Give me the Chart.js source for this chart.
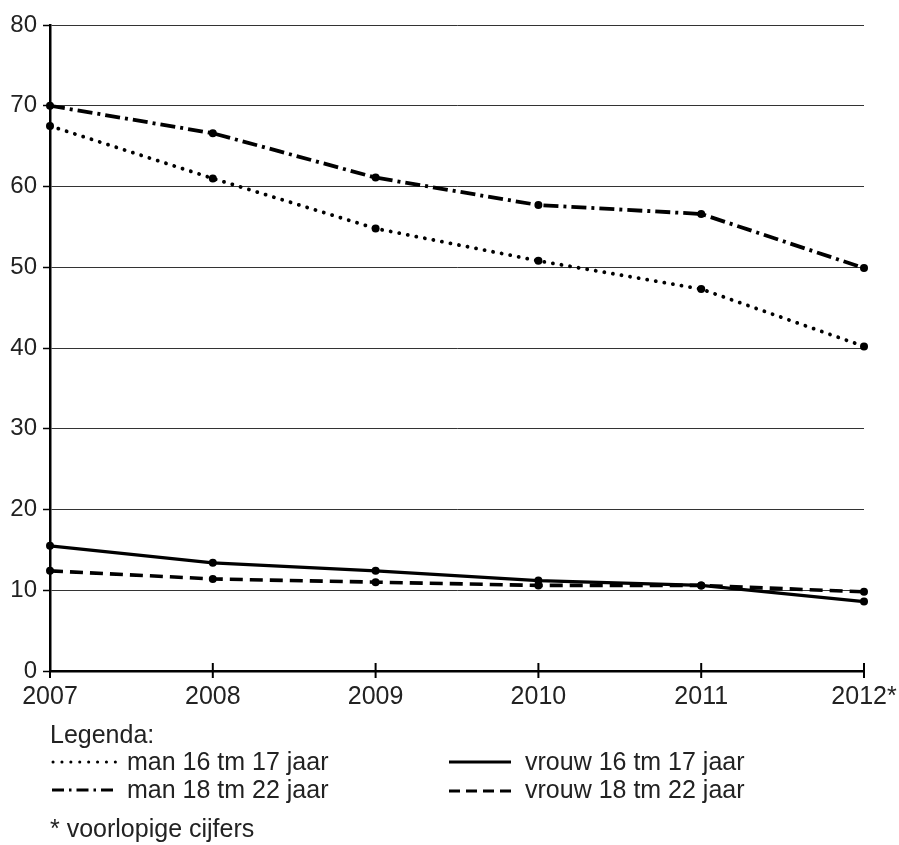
<!DOCTYPE html>
<html>
<head>
<meta charset="utf-8">
<script src="https://cdn.jsdelivr.net/npm/chart.js@4.4.0/dist/chart.umd.min.js"></script>
<style>
  html, body { margin: 0; padding: 0; background: #fff; }
  #wrap { width: 899px; height: 845px; position: relative; }
</style>
</head>
<body>
<div id="wrap"><canvas id="c" width="899" height="845"></canvas></div>
<script>
const years = ["2007", "2008", "2009", "2010", "2011", "2012*"];
const man16_17 = [67.5, 61.0, 54.8, 50.8, 47.3, 40.2];
const man18_22 = [70.0, 66.6, 61.1, 57.7, 56.6, 49.9];
const vrouw16_17 = [15.5, 13.4, 12.4, 11.2, 10.6, 8.6];
const vrouw18_22 = [12.4, 11.4, 11.0, 10.6, 10.6, 9.8];
const yTicks = [0, 10, 20, 30, 40, 50, 60, 70, 80];
const legendTitle = "Legenda:";
const legendLabels = ["man 16 tm 17 jaar", "vrouw 16 tm 17 jaar", "man 18 tm 22 jaar", "vrouw 18 tm 22 jaar"];
const footnote = "* voorlopige cijfers";

const FONT = "'Liberation Sans', Arial, sans-serif";
const TXT = "#222";

const xTickPlugin = {
  id: 'xTicks',
  afterDatasetsDraw(chart) {
    const ctx = chart.ctx, x = chart.scales.x, area = chart.chartArea;
    ctx.save();
    ctx.strokeStyle = "#000";
    ctx.lineWidth = 2;
    ctx.setLineDash([]);
    for (let i = 0; i < years.length; i++) {
      const px = x.getPixelForValue(i);
      ctx.beginPath();
      ctx.moveTo(px, area.bottom - 8);
      ctx.lineTo(px, area.bottom + 7);
      ctx.stroke();
    }
    ctx.restore();
  },
  afterDraw(chart) {
    const ctx = chart.ctx;
    ctx.save();
    ctx.fillStyle = TXT;
    ctx.font = "25px " + FONT;
    ctx.textBaseline = "alphabetic";
    ctx.textAlign = "left";
    ctx.fillText(legendTitle, 50, 743);
    ctx.fillText(legendLabels[0], 127, 770);
    ctx.fillText(legendLabels[2], 127, 798);
    ctx.fillText(legendLabels[1], 525, 770);
    ctx.fillText(legendLabels[3], 525, 798);
    ctx.fillText(footnote, 50, 837);

    ctx.strokeStyle = "#000";
    // dotted sample
    ctx.lineWidth = 3; ctx.lineCap = "round"; ctx.setLineDash([0.1, 8.8]);
    ctx.beginPath(); ctx.moveTo(53, 762); ctx.lineTo(116, 762); ctx.stroke();
    // dash-dot sample
    ctx.lineCap = "butt"; ctx.lineWidth = 3.2; ctx.setLineDash([12, 5, 2.5, 5]);
    ctx.beginPath(); ctx.moveTo(52, 790); ctx.lineTo(114, 790); ctx.stroke();
    // solid sample
    ctx.setLineDash([]); ctx.lineWidth = 3;
    ctx.beginPath(); ctx.moveTo(449, 762); ctx.lineTo(511, 762); ctx.stroke();
    // dashed sample
    ctx.setLineDash([11, 6]); ctx.lineWidth = 3.2;
    ctx.beginPath(); ctx.moveTo(449, 791); ctx.lineTo(511, 791); ctx.stroke();
    ctx.restore();
  }
};

const common = { borderColor: "#000", backgroundColor: "#000", pointRadius: 4, pointBackgroundColor: "#000", pointBorderWidth: 0, fill: false, tension: 0 };

new Chart(document.getElementById('c'), {
  type: 'line',
  data: {
    labels: years,
    datasets: [
      Object.assign({}, common, { label: legendLabels[0], data: man16_17, borderWidth: 3.8, borderDash: [0.1, 8.6], borderCapStyle: 'round' }),
      Object.assign({}, common, { label: legendLabels[2], data: man18_22, borderWidth: 3.8, borderDash: [15, 5, 3, 5], borderCapStyle: 'butt' }),
      Object.assign({}, common, { label: legendLabels[1], data: vrouw16_17, borderWidth: 3.2 }),
      Object.assign({}, common, { label: legendLabels[3], data: vrouw18_22, borderWidth: 3.6, borderDash: [13, 7], borderCapStyle: 'butt' })
    ]
  },
  options: {
    responsive: false,
    animation: false,
    devicePixelRatio: 1,
    layout: { padding: { left: 0, top: 25, right: 35, bottom: 0 } },
    plugins: { legend: { display: false }, tooltip: { enabled: false } },
    scales: {
      x: {
        type: 'category',
        offset: false,
        grid: { display: false, drawTicks: false },
        border: { display: true, color: "#000", width: 2.5 },
        ticks: { color: TXT, font: { family: FONT, size: 25 }, padding: 11, maxRotation: 0, autoSkip: false },
        afterFit(scale) { scale.height = 174; scale.paddingLeft = 0; scale.paddingRight = 0; }
      },
      y: {
        min: 0, max: 80,
        afterBuildTicks(scale) { scale.ticks = yTicks.map(v => ({ value: v })); },
        grid: { color: "#333", lineWidth: 1, tickLength: 7, drawTicks: true, tickColor: "#000", tickWidth: 1.5 },
        border: { display: true, color: "#000", width: 2.5 },
        ticks: { color: TXT, font: { family: FONT, size: 24 }, padding: 6 },
        afterFit(scale) { scale.width = 50; scale.paddingTop = 0; scale.paddingBottom = 0; }
      }
    }
  },
  plugins: [xTickPlugin]
});
</script>
</body>
</html>
